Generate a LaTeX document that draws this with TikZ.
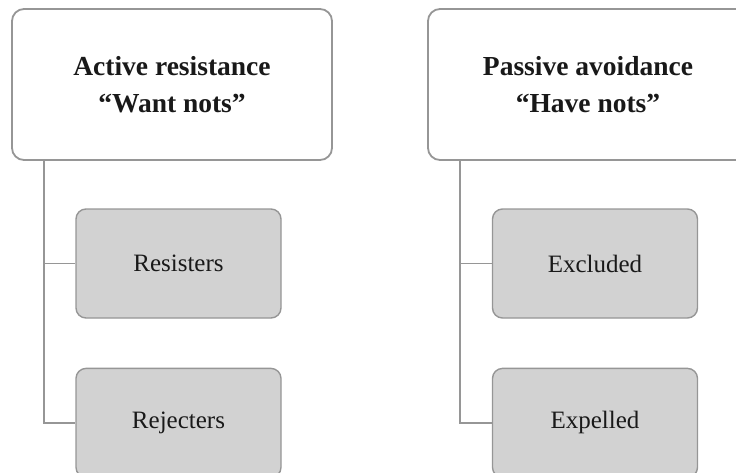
\documentclass[tikz,border=0pt]{standalone}
\usepackage{fontspec}
\setmainfont{Liberation Serif}
\usetikzlibrary{positioning,calc}
\definecolor{cline}{RGB}{150,150,150}
\definecolor{cleaf}{RGB}{210,210,210}
\definecolor{ctext}{RGB}{25,25,25}

\begin{document}
\begin{tikzpicture}[
  x=1pt, y=1pt,
  head/.style={draw=cline, line width=1.8pt, fill=white, text=ctext, rounded corners=12pt, minimum width=320pt, minimum height=151pt, align=center, font=\fontsize{27.5}{37}\selectfont\bfseries},
  leaf/.style={draw=cline, line width=1.4pt, fill=cleaf, text=ctext, rounded corners=10pt, minimum width=205pt, minimum height=109pt, font=\fontsize{25}{30}\selectfont},
  tree/.style={draw=cline, line width=1.9pt},
]
\useasboundingbox (0,0) rectangle (736,-472);

% ---- left column ----
\node[head] (act) at (172,-84.5) {Active resistance\\``Want nots''};
\node[leaf] (res) at (178.5,-263.5) {Resisters};
\node[leaf, below=49pt of res] (rej) {Rejecters};
\coordinate (actroot) at ($(act.south west)+(33,0)$);
\draw[tree] (actroot) |- (res.west);
\draw[tree] (actroot) |- (rej.west);

% ---- right column ----
\node[head] (pas) at (588,-84.5) {Passive avoidance\\``Have nots''};
\node[leaf] (exc) at (595,-263.5) {Excluded};
\node[leaf, below=49pt of exc] (exp) {Expelled};
\coordinate (pasroot) at ($(pas.south west)+(33,0)$);
\draw[tree] (pasroot) |- (exc.west);
\draw[tree] (pasroot) |- (exp.west);
\end{tikzpicture}
\end{document}
